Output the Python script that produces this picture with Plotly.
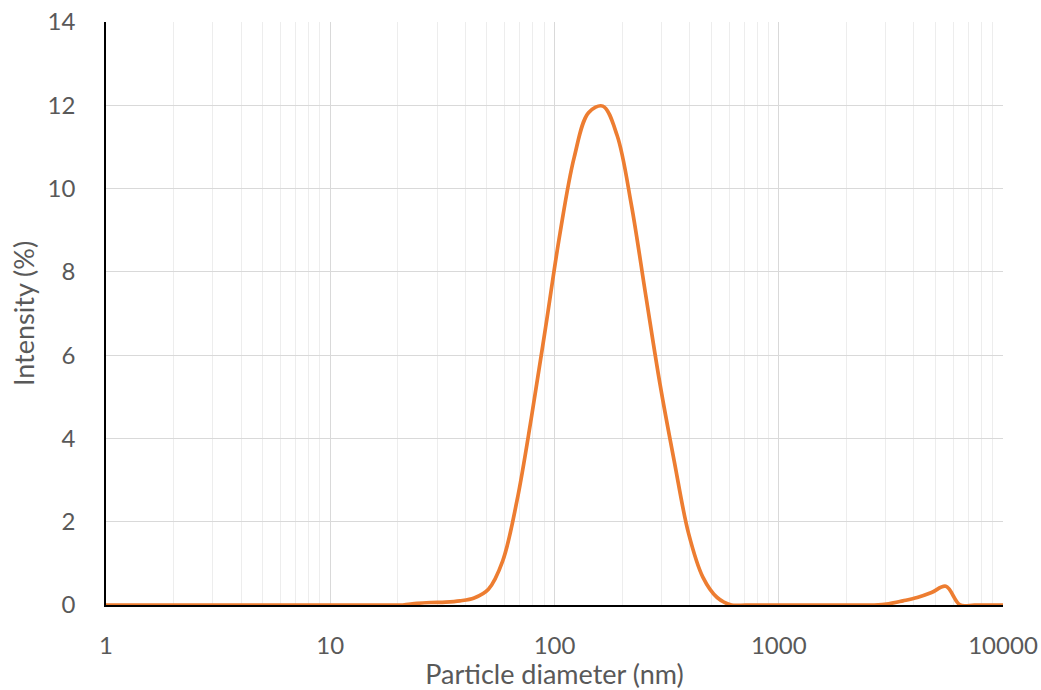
import plotly.graph_objects as go

diameter_nm = [0.9649, 1.117, 1.294, 1.499, 1.736, 2.010, 2.328, 2.696, 3.122, 3.615,
               4.187, 4.849, 5.615, 6.503, 7.531, 8.721, 10.10, 11.70, 13.54, 15.69,
               18.17, 21.04, 24.36, 28.21, 32.67, 37.84, 43.82, 50.75, 58.77, 68.06,
               78.82, 91.28, 105.7, 122.4, 141.8, 164.2, 190.1, 220.2, 255.0, 295.3,
               342.0, 396.1, 458.7, 531.2, 615.1, 712.4, 825.0, 955.4, 1106, 1281,
               1484, 1718, 1990, 2305, 2669, 3091, 3580, 4145, 4801, 5560,
               6439, 7456, 8635, 10000]
intensity_pct = [0, 0, 0, 0, 0, 0, 0, 0, 0, 0,
                 0, 0, 0, 0, 0, 0, 0, 0, 0, 0,
                 0, 0.0, 0.04, 0.06, 0.07, 0.10, 0.17, 0.38, 1.06, 2.51,
                 4.49, 6.67, 8.91, 10.75, 11.82, 11.98, 11.28, 9.61, 7.45, 5.31,
                 3.45, 1.72, 0.67, 0.18, 0.0, 0, 0, 0, 0, 0,
                 0, 0, 0, 0, 0, 0.03, 0.10, 0.18, 0.30, 0.45,
                 0.0, 0, 0, 0]

x_ticks = [1, 10, 100, 1000, 10000]
x_tick_labels = ["1", "10", "100", "1000", "10000"]
y_ticks = [0, 2, 4, 6, 8, 10, 12, 14]

FONT = "Lato"
TXT = "#595959"

fig = go.Figure()
fig.add_trace(go.Scatter(
    x=diameter_nm, y=intensity_pct, mode="lines",
    line=dict(color="#ED7D31", width=3.7, shape="spline", smoothing=1.0),
    showlegend=False, cliponaxis=True,
))

fig.update_layout(
    width=1041, height=690,
    margin=dict(l=106, r=38, t=22, b=85),
    paper_bgcolor="white", plot_bgcolor="white",
    font=dict(family=FONT, color=TXT, size=24),
)
fig.update_xaxes(
    type="log", range=[0, 4],
    tickvals=x_ticks, ticktext=x_tick_labels,
    showgrid=True, gridcolor="#D9D9D9", gridwidth=1.3,
    minor=dict(dtick="D1", showgrid=True, gridcolor="#EDEDED", gridwidth=1.3, ticks=""),
    showline=True, linecolor="black", linewidth=1.5,
    ticks="", ticklabelstandoff=18,
    zeroline=False,
    title=dict(text="Particle diameter (nm)", standoff=16, font=dict(size=27, color=TXT)),
    automargin=False,
)
fig.update_yaxes(
    range=[0, 14], tickvals=y_ticks,
    showgrid=True, gridcolor="#D9D9D9", gridwidth=1.3,
    showline=True, linecolor="black", linewidth=1.5,
    ticks="", ticklabelstandoff=24,
    zeroline=False,
    title=dict(text="Intensity (%)", standoff=5, font=dict(size=27, color=TXT)),
    automargin=False,
)

fig.write_html("out.html")
